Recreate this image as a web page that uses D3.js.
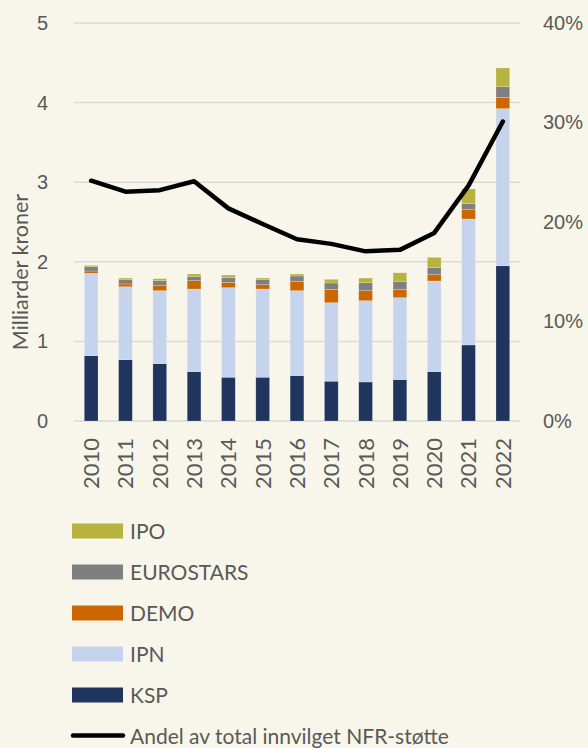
<!DOCTYPE html>
<html>
<head>
<meta charset="utf-8">
<script src="https://cdn.jsdelivr.net/npm/d3@7"></script>
<style>
  body { margin: 0; background: #f8f6ea; }
  svg { display: block; font-family: Lato, "Open Sans", sans-serif; }
  .tick text { fill: #595959; }
</style>
</head>
<body>
<svg id="chart"></svg>
<script>
const years = ["2010", "2011", "2012", "2013", "2014", "2015", "2016", "2017", "2018", "2019", "2020", "2021", "2022"];
const ksp = [0.82, 0.77, 0.72, 0.62, 0.55, 0.55, 0.57, 0.50, 0.49, 0.52, 0.62, 0.955, 1.95];
const ipn = [1.036, 0.917, 0.917, 1.038, 1.125, 1.108, 1.067, 0.986, 1.021, 1.029, 1.139, 1.583, 1.974];
const demo = [0.028, 0.034, 0.063, 0.105, 0.067, 0.054, 0.118, 0.168, 0.126, 0.105, 0.079, 0.117, 0.142];
const eurostars = [0.054, 0.059, 0.063, 0.05, 0.058, 0.068, 0.067, 0.08, 0.10, 0.10, 0.088, 0.075, 0.134];
const ipo = [0.018, 0.016, 0.025, 0.034, 0.034, 0.016, 0.025, 0.046, 0.059, 0.108, 0.13, 0.185, 0.235];
const andel = [0.2415, 0.2305, 0.232, 0.241, 0.2137, 0.198, 0.1826, 0.178, 0.1705, 0.172, 0.189, 0.2365, 0.301];

const leftTicks = [0, 1, 2, 3, 4, 5];
const rightTicks = [0, 0.1, 0.2, 0.3, 0.4];

const seriesNames = ["KSP", "IPN", "DEMO", "EUROSTARS", "IPO"];
const seriesColors = ["#1f355e", "#c5d3ec", "#cc6600", "#7f7f7f", "#b8b23e"];
const lineLabel = "Andel av total innvilget NFR-støtte";

const width = 588, height = 748;
const margin = { left: 74, right: 68, top: 23, bottom: 327 };

const svg = d3.select("#chart").attr("width", width).attr("height", height);
svg.append("rect").attr("width", width).attr("height", height).attr("fill", "#f8f6ea");

const x = d3.scaleBand()
  .domain(years)
  .range([margin.left, width - margin.right])
  .paddingInner(0.6)
  .paddingOuter(0.3);

const y = d3.scaleLinear().domain([0, 5]).range([height - margin.bottom, margin.top]);
const y2 = d3.scaleLinear().domain([0, 0.4]).range([height - margin.bottom, margin.top]);

// gridlines
svg.append("g")
  .selectAll("line")
  .data(leftTicks)
  .join("line")
  .attr("x1", margin.left)
  .attr("x2", width - margin.right)
  .attr("y1", d => y(d))
  .attr("y2", d => y(d))
  .attr("stroke", "#d9d9d9")
  .attr("stroke-width", 1.5);

// stacked bars
const rows = years.map((yr, i) => ({
  year: yr, KSP: ksp[i], IPN: ipn[i], DEMO: demo[i], EUROSTARS: eurostars[i], IPO: ipo[i]
}));
const stacked = d3.stack().keys(seriesNames)(rows);

svg.append("g")
  .selectAll("g")
  .data(stacked)
  .join("g")
  .attr("fill", (d, i) => seriesColors[i])
  .selectAll("rect")
  .data(d => d)
  .join("rect")
  .attr("x", d => x(d.data.year))
  .attr("width", x.bandwidth())
  .attr("y", d => y(d[1]))
  .attr("height", d => y(d[0]) - y(d[1]))
  .attr("stroke", "#ffffff")
  .attr("stroke-opacity", 0.35)
  .attr("stroke-width", 0.6);

// line
const line = d3.line()
  .x((d, i) => x(years[i]) + x.bandwidth() / 2)
  .y(d => y2(d));

svg.append("path")
  .datum(andel)
  .attr("d", line)
  .attr("fill", "none")
  .attr("stroke", "#000")
  .attr("stroke-width", 4.5)
  .attr("stroke-linecap", "round")
  .attr("stroke-linejoin", "round");

// left axis
const leftAxis = svg.append("g")
  .attr("transform", `translate(${margin.left - 26},0)`)
  .call(d3.axisLeft(y).tickValues(leftTicks).tickSize(0).tickPadding(0).tickFormat(d3.format("d")));
leftAxis.select(".domain").remove();
leftAxis.selectAll("text").attr("font-size", 20);

// right axis
const rightAxis = svg.append("g")
  .attr("transform", `translate(${width - margin.right + 23},0)`)
  .call(d3.axisRight(y2).tickValues(rightTicks).tickSize(0).tickPadding(0).tickFormat(d3.format(".0%")));
rightAxis.select(".domain").remove();
rightAxis.selectAll("text").attr("font-size", 20);

// x labels
svg.append("g")
  .selectAll("text")
  .data(years)
  .join("text")
  .attr("transform", d => `translate(${x(d) + x.bandwidth() / 2},438) rotate(-90)`)
  .attr("dy", "0.36em")
  .attr("text-anchor", "end")
  .attr("font-size", 22)
  .attr("fill", "#595959")
  .text(d => d);

// y axis title
svg.append("text")
  .attr("transform", `translate(20,272) rotate(-90)`)
  .attr("dy", "0.35em")
  .attr("text-anchor", "middle")
  .attr("font-size", 21.5)
  .attr("fill", "#595959")
  .text("Milliarder kroner");

// legend
const legendItems = seriesNames.map((n, i) => ({ name: n, color: seriesColors[i] })).reverse();
const legend = svg.append("g");
legendItems.forEach((d, i) => {
  const cy = 531 + i * 41;
  legend.append("rect")
    .attr("x", 72).attr("y", cy - 7.5)
    .attr("width", 51).attr("height", 15)
    .attr("fill", d.color);
  legend.append("text")
    .attr("x", 130).attr("y", cy)
    .attr("dy", "0.36em")
    .attr("font-size", 21)
    .attr("fill", "#595959")
    .text(d.name);
});
const ly = 531 + 5 * 41;
legend.append("line")
  .attr("x1", 73).attr("x2", 123)
  .attr("y1", ly - 0.5).attr("y2", ly - 0.5)
  .attr("stroke", "#000")
  .attr("stroke-width", 4.5)
  .attr("stroke-linecap", "round");
legend.append("text")
  .attr("x", 130).attr("y", ly)
  .attr("dy", "0.36em")
  .attr("font-size", 21)
  .attr("fill", "#595959")
  .text(lineLabel);
</script>
</body>
</html>
